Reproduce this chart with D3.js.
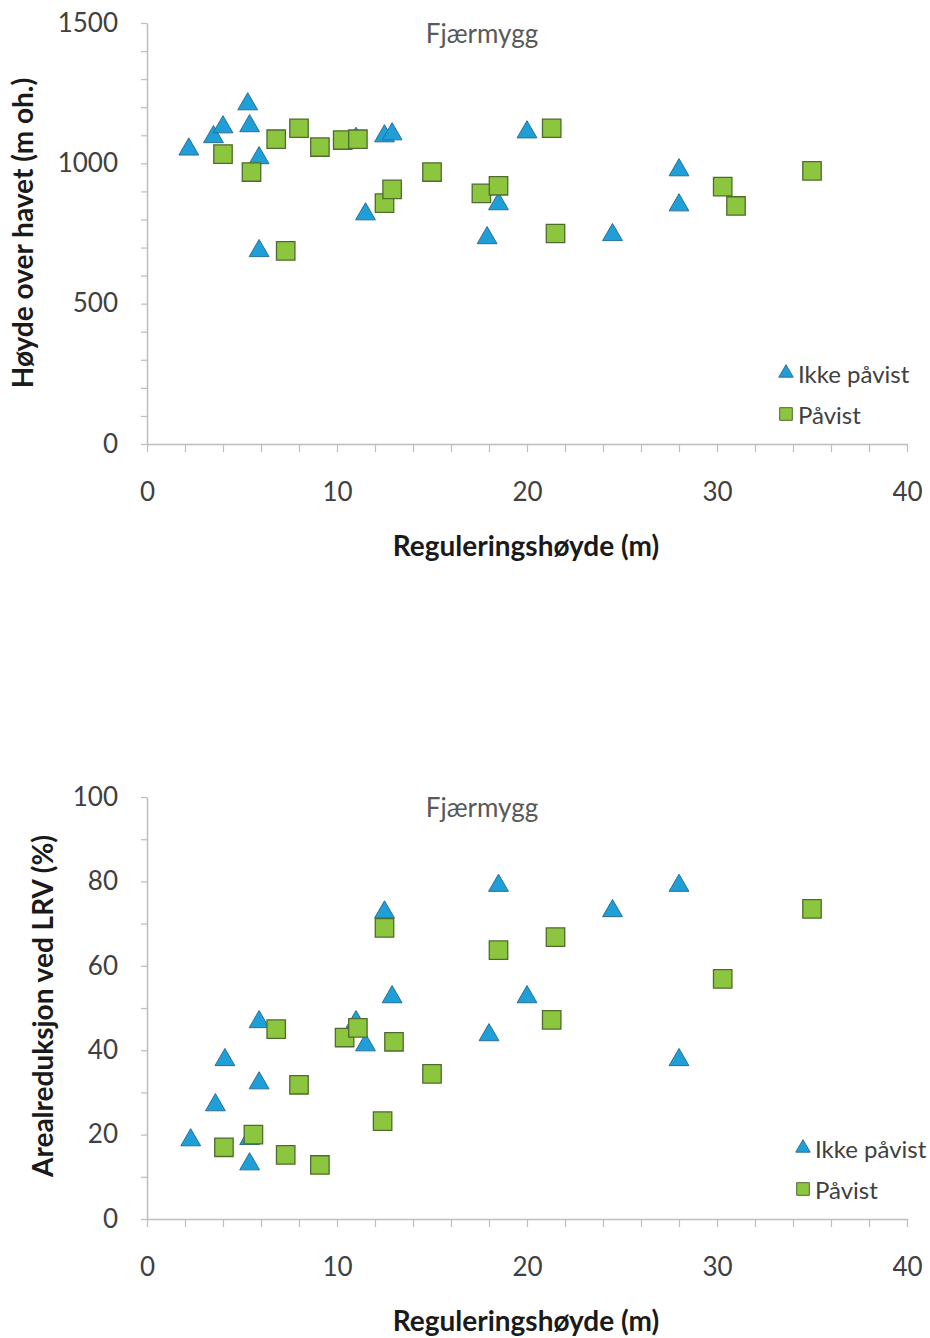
<!DOCTYPE html>
<html>
<head>
<meta charset="utf-8">
<script src="https://cdn.jsdelivr.net/npm/d3@7"></script>
<style>
  body { margin: 0; background: #fff; }
  text { font-family: Lato, "Open Sans", sans-serif; }
</style>
</head>
<body>
<svg id="chart" width="930" height="1338"></svg>
<script>
// data: [reguleringshøyde (m), value]
const seriesNames = ["Ikke påvist", "Påvist"];
const chartTitle = "Fjærmygg";
const xTitle = "Reguleringshøyde (m)";
const xDomain = [0, 40];

const hoydeIkke = [
  [2.2, 1050], [3.5, 1094], [4.0, 1129], [5.3, 1211], [5.4, 1133], [5.9, 1019],
  [5.9, 688], [11.0, 1088], [11.5, 819], [12.5, 1097], [12.9, 1104], [17.9, 734],
  [18.5, 855], [20.0, 1111], [24.5, 745], [28.0, 976], [28.0, 851]
];
const hoydePavist = [
  [4.0, 1033], [5.5, 969], [6.8, 1086], [8.0, 1125], [9.1, 1058], [10.3, 1083],
  [11.1, 1086], [7.3, 688], [12.5, 858], [12.9, 907], [15.0, 969], [21.3, 1125],
  [17.6, 893], [18.5, 920], [21.5, 750], [30.3, 917], [31.0, 848], [35.0, 973]
];

const arealIkke = [
  [2.3, 18.7], [3.6, 27], [4.1, 37.7], [5.4, 19], [5.4, 13], [5.9, 46.7],
  [5.9, 32.2], [11.0, 46.7], [11.5, 41.2], [12.5, 72.7], [12.9, 52.6], [18.0, 43.6],
  [18.5, 79], [20.0, 52.6], [24.5, 73], [28.0, 79], [28.0, 37.7]
];
const arealPavist = [
  [4.05, 17], [5.6, 20], [6.8, 45], [8.0, 31.8], [7.3, 15.2], [9.1, 12.8],
  [10.4, 43], [11.1, 45.3], [12.5, 69], [12.4, 23.2], [13.0, 42], [15.0, 34.4],
  [18.5, 63.7], [21.3, 47.2], [21.5, 66.8], [30.3, 56.9], [35.0, 73.5]
];

const svg = d3.select("#chart");

const triColor = { fill: "#1f9fd8", stroke: "#2a6f96" };
const sqColor = { fill: "#8cc63e", stroke: "#4f6b2d" };

function drawScatter(opt) {
  const left = 147, right = 907;
  const x = d3.scaleLinear().domain(xDomain).range([left, right]);
  const y = d3.scaleLinear().domain([0, opt.yMax]).range([opt.bottom, opt.top]);

  const g = svg.append("g");

  // y axis with minor ticks
  g.append("g")
    .attr("transform", `translate(${left},0)`)
    .call(d3.axisLeft(y)
      .tickValues(d3.range(0, opt.yMax + 0.001, opt.yMinor))
      .tickFormat(d => (Math.round(d) % opt.yMajor === 0 ? d : ""))
      .tickSize(6)
      .tickSizeOuter(0)
      .tickPadding(23))
    .call(a => a.select(".domain").attr("stroke", "#bdbdbd").attr("stroke-width", 1.5))
    .call(a => a.selectAll(".tick line").attr("stroke", "#bdbdbd").attr("stroke-width", 1.2))
    .call(a => a.selectAll(".tick text").attr("fill", "#404040").style("font-size", "26px"));

  // x axis
  g.append("g")
    .attr("transform", `translate(0,${opt.bottom})`)
    .call(d3.axisBottom(x)
      .tickValues(d3.range(0, 41, 2))
      .tickFormat(d => (d % 10 === 0 ? d : ""))
      .tickSize(8)
      .tickSizeOuter(0)
      .tickPadding(31))
    .call(a => a.select(".domain").attr("stroke", "#bdbdbd").attr("stroke-width", 1.5))
    .call(a => a.selectAll(".tick line").attr("stroke", "#bdbdbd").attr("stroke-width", 1.2))
    .call(a => a.selectAll(".tick text").attr("fill", "#404040").style("font-size", "26px"));

  // titles
  g.append("text")
    .attr("x", 482).attr("y", opt.top + 10)
    .attr("text-anchor", "middle").attr("dominant-baseline", "central")
    .attr("fill", "#595959").style("font-size", "26px")
    .text(chartTitle);

  g.append("text")
    .attr("x", 526).attr("y", opt.bottom + 101)
    .attr("text-anchor", "middle").attr("dominant-baseline", "central")
    .attr("fill", "#1a1a1a").style("font-size", "28px").style("font-weight", "bold")
    .text(xTitle);

  g.append("text")
    .attr("transform", `translate(${opt.yTitleX},${opt.yTitleY}) rotate(-90)`)
    .attr("text-anchor", "middle").attr("dominant-baseline", "central")
    .attr("fill", "#1a1a1a").style("font-size", "28px").style("font-weight", "bold")
    .text(opt.yTitle);

  const tri = d3.symbol().type(d3.symbolTriangle).size(170);
  const sq = d3.symbol().type(d3.symbolSquare).size(340);

  g.append("g").selectAll("path")
    .data(opt.ikke)
    .join("path")
      .attr("d", tri)
      .attr("transform", d => `translate(${x(d[0])},${y(d[1])})`)
      .attr("fill", triColor.fill).attr("stroke", triColor.stroke).attr("stroke-width", 1);

  g.append("g").selectAll("path")
    .data(opt.pavist)
    .join("path")
      .attr("d", sq)
      .attr("transform", d => `translate(${x(d[0])},${y(d[1])})`)
      .attr("fill", sqColor.fill).attr("stroke", sqColor.stroke).attr("stroke-width", 1.3);

  // legend
  const leg = g.append("g").attr("transform", `translate(${opt.legX},${opt.legY})`);
  const items = leg.selectAll("g")
    .data(seriesNames)
    .join("g")
      .attr("transform", (d, i) => `translate(0,${i * 41})`);
  items.append("path")
    .attr("d", (d, i) => (i === 0
      ? d3.symbol().type(d3.symbolTriangle).size(90)()
      : d3.symbol().type(d3.symbolSquare).size(160)()))
    .attr("fill", (d, i) => (i === 0 ? triColor.fill : sqColor.fill))
    .attr("stroke", (d, i) => (i === 0 ? triColor.stroke : sqColor.stroke))
    .attr("stroke-width", 1);
  items.append("text")
    .attr("x", 12).attr("y", 0)
    .attr("dominant-baseline", "central")
    .attr("fill", "#404040").style("font-size", "24px")
    .text(d => d);
}

drawScatter({
  top: 23, bottom: 444, yMax: 1500, yMinor: 100, yMajor: 500,
  yTitle: "Høyde over havet (m oh.)", yTitleX: 22, yTitleY: 233,
  ikke: hoydeIkke, pavist: hoydePavist,
  legX: 786, legY: 373
});

drawScatter({
  top: 797, bottom: 1219, yMax: 100, yMinor: 10, yMajor: 20,
  yTitle: "Arealreduksjon ved LRV (%)", yTitleX: 42, yTitleY: 1006,
  ikke: arealIkke, pavist: arealPavist,
  legX: 803, legY: 1148
});
</script>
</body>
</html>
